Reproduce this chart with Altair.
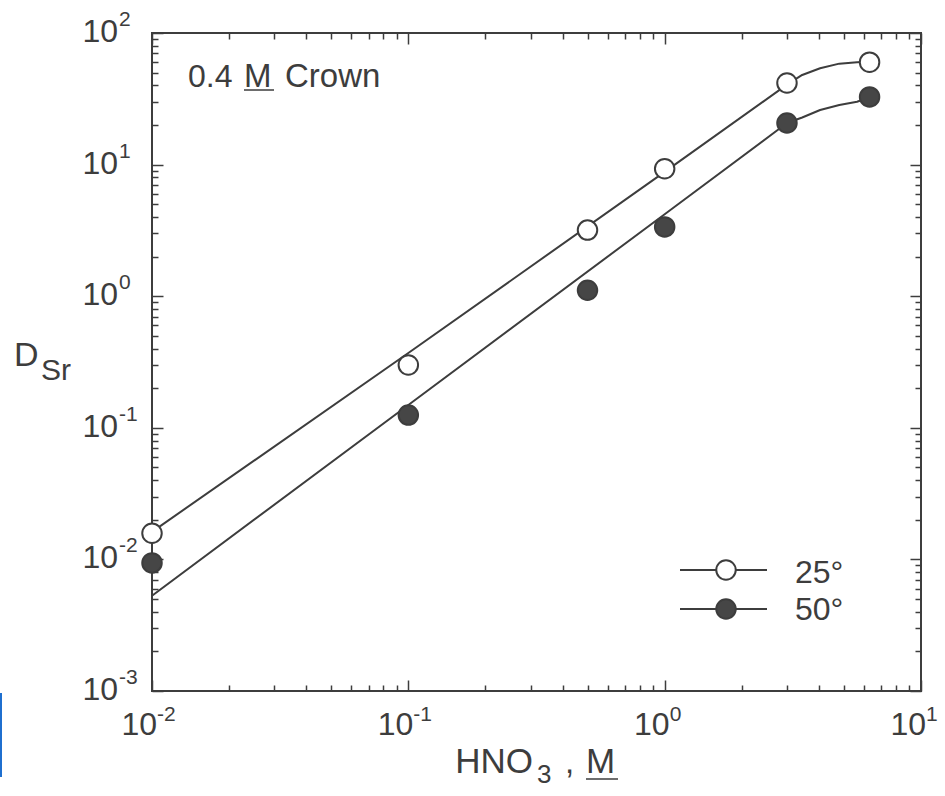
import altair as alt
import pandas as pd

# ---------------- data ----------------
series = ["25°", "50°"]
hno3 = [0.01, 0.1, 0.5, 1.0, 3.0, 6.3]
d_25 = [0.0158, 0.30, 3.18, 9.3, 41.7, 60.0]
d_50 = [0.0094, 0.125, 1.11, 3.36, 20.7, 32.7]

fit_x = [0.01, 0.1, 1.0, 3.0, 3.44, 4.04, 4.8, 5.63, 6.3]
fit_25 = [0.0162, 0.37, 8.8, 40.5, 48.0, 54.0, 58.5, 60.0, 60.5]
fit_50 = [0.0053, 0.149, 4.2, 20.7, 22.8, 26.0, 28.4, 30.0, 32.5]

x_decades = [0.01, 0.1, 1, 10]
x_exps = ["-2", "-1", "0", "1"]
y_decades = [0.001, 0.01, 0.1, 1, 10, 100]
y_exps = ["-3", "-2", "-1", "0", "1", "2"]

# ---------------- styling ----------------
W, H = 769, 658
INK = "#3d3d3d"
DARK = "#464646"
FONT = "Liberation Sans"


def minor_ticks(lo, hi):
    vals = []
    for e in range(lo, hi):
        for k in range(1, 10):
            vals.append(float(f"{k}e{e}"))
    vals.append(float(f"1e{hi}"))
    return vals


x_ticks = minor_ticks(-2, 1)
y_ticks = minor_ticks(-3, 2)

MAJOR = "abs(log(datum.value)/LN10 - round(log(datum.value)/LN10)) < 0.001"
tick_size = {"condition": {"test": MAJOR, "value": 11}, "value": 6}


def ax(orient, offset, values):
    return alt.Axis(orient=orient, offset=offset, values=values, labels=False,
                    domain=False, grid=False, ticks=True, tickColor=INK,
                    tickWidth=1.5, tickSize=tick_size, title=None)


xs = alt.Scale(type="log", domain=[0.01, 10], nice=False)
ys = alt.Scale(type="log", domain=[0.001, 100], nice=False)

pts = pd.DataFrame({
    "x": hno3 + hno3,
    "y": d_25 + d_50,
    "T": [series[0]] * len(hno3) + [series[1]] * len(hno3),
})
fit = pd.DataFrame({
    "x": fit_x + fit_x,
    "y": fit_25 + fit_50,
    "T": [series[0]] * len(fit_x) + [series[1]] * len(fit_x),
})
xlab = pd.DataFrame({"v": x_decades, "e": x_exps})
ylab = pd.DataFrame({"v": y_decades, "e": y_exps})
one = pd.DataFrame({"a": [0]})

lines = alt.Chart(fit).mark_line(color=INK, strokeWidth=2, interpolate="linear",
                                 strokeJoin="round").encode(
    x=alt.X("x:Q", scale=xs, axis=ax("top", -H, x_ticks)),
    y=alt.Y("y:Q", scale=ys, axis=ax("right", -W, y_ticks)),
    detail="T:N",
)

points = alt.Chart(pts).mark_circle(size=380, stroke=INK, strokeWidth=2, opacity=1).encode(
    x=alt.X("x:Q", scale=xs, axis=ax("bottom", -H, x_ticks)),
    y=alt.Y("y:Q", scale=ys, axis=ax("left", -W, y_ticks)),
    fill=alt.Fill("T:N", scale=alt.Scale(domain=series, range=["white", DARK]), legend=None),
)

x10 = alt.Chart(xlab).mark_text(text="10", align="right", baseline="alphabetic", dx=5, dy=44,
                                fontSize=32, font=FONT, color=INK).encode(
    x=alt.X("v:Q", scale=xs, axis=None), y=alt.value(H))
xexp = alt.Chart(xlab).mark_text(align="left", baseline="alphabetic", dx=5, dy=30,
                                 fontSize=21, font=FONT, color=INK).encode(
    x=alt.X("v:Q", scale=xs, axis=None), y=alt.value(H), text="e:N")

y10 = alt.Chart(ylab).mark_text(text="10", align="right", baseline="alphabetic", dx=-34, dy=9,
                                fontSize=32, font=FONT, color=INK).encode(
    x=alt.value(0), y=alt.Y("v:Q", scale=ys, axis=None))
yexp = alt.Chart(ylab).mark_text(align="left", baseline="alphabetic", dx=-33, dy=-7,
                                 fontSize=21, font=FONT, color=INK).encode(
    x=alt.value(0), y=alt.Y("v:Q", scale=ys, axis=None), text="e:N")


def txt(s, x, y, size, align="left"):
    return alt.Chart(one).mark_text(text=s, align=align, baseline="alphabetic",
                                    fontSize=size, font=FONT, color=INK).encode(
        x=alt.value(x), y=alt.value(y))


def hline(x1, x2, y, color=INK, w=2):
    return alt.Chart(one).mark_rule(color=color, strokeWidth=w).encode(
        x=alt.value(x1), x2=alt.value(x2), y=alt.value(y))


def marker(x, y, fill):
    return alt.Chart(one).mark_circle(size=380, fill=fill, stroke=INK, strokeWidth=2,
                                      opacity=1).encode(x=alt.value(x), y=alt.value(y))


annotations = [
    # panel label
    txt("0.4", 36, 54, 32), txt("M", 92, 54, 33), hline(92, 122, 57, w=1.5),
    txt("Crown", 133, 54, 33),
    # y title
    txt("D", -138, 333, 34), txt("Sr", -111, 347, 30),
    # x title
    txt("HNO", 381, 740, 35, align="right"), txt("3", 385, 750, 26),
    txt(",", 413, 740, 33), txt("M", 434, 740, 35), hline(434, 466, 746, w=1.5),
    # legend
    hline(528, 615, 537), marker(574, 537, "white"), txt(series[0], 643, 550, 32),
    hline(528, 615, 576), marker(574, 576, DARK), txt(series[1], 643, 587, 32),
]

artifact = alt.Chart(one).mark_rule(color="#1f6fcf", strokeWidth=2).encode(
    x=alt.value(-151), y=alt.value(660), y2=alt.value(744))

chart = alt.layer(
    lines, points, x10, xexp, y10, yexp, *annotations, artifact
).resolve_axis(
    x="independent", y="independent"
).properties(
    width=W, height=H,
    padding={"left": 152, "top": 33, "right": 24, "bottom": 105},
    autosize=alt.AutoSizeParams(type="none"),
    background="white",
).configure_view(stroke=INK, strokeWidth=2)

chart.save("out.html", embed_options={"renderer": "svg", "actions": False})
